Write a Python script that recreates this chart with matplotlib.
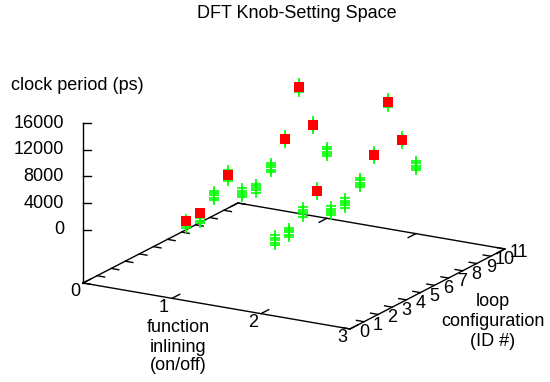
import numpy as np
import matplotlib
matplotlib.use("Agg")
import matplotlib.pyplot as plt
from mpl_toolkits.mplot3d import proj3d
from matplotlib.lines import Line2D
from matplotlib.transforms import IdentityTransform

# ---------------- data (clock period in ps) ----------------
inlining = [1, 2]
loop_ids = [1, 2, 3, 4, 5, 6, 7, 8, 9, 10, 11]

# repeated runs (green "+") for function inlining = 1
green_inl1 = [
    [1400, 1750, 2100, 2450, 2800],
    [1050, 1450, 1850, 2250, 2650],
    [3500, 3850, 4200, 4550, 4900],
    [5300, 5700, 6100, 6500, 6900],
    [1700, 2050, 2400, 2700, 3050],
    [1300, 1650, 1950, 2300, 2650],
    [3300, 3650, 4000, 4300, 4650],
    [6500, 6800, 7100, 7450, 7750],
    [13200, 13550, 13850, 14150, 14500],
    [6450, 6800, 7100, 7400, 7750],
    [1300, 1650, 2000, 2350, 2700],
]
# repeated runs (green "+") for function inlining = 2
green_inl2 = [
    [1150, 1550, 1950, 2300, 2700],
    [1250, 1600, 2000, 2350, 2700],
    [3300, 3650, 4000, 4350, 4700],
    [5400, 5750, 6050, 6350, 6700],
    [1300, 1650, 2000, 2300, 2650],
    [1350, 1700, 2050, 2400, 2750],
    [3300, 3650, 4000, 4350, 4700],
    [6450, 6750, 7080, 7400, 7700],
    [13250, 13600, 13900, 14200, 14550],
    [6500, 6800, 7150, 7450, 7800],
    [1500, 1850, 2200, 2550, 2900],
]
# highlighted results (red squares), nan = none
red_inl1 = [2550, 2670, np.nan, 6135, np.nan, np.nan, np.nan, 7125, 13845, 7095, np.nan]
red_inl2 = [np.nan, np.nan, np.nan, 6045, np.nan, np.nan, np.nan, 7080, 13890, 7140, np.nan]

x_ticks = [0, 1, 2, 3]
y_ticks = list(range(0, 12))
z_ticks = [0, 4000, 8000, 12000, 16000]
x_lim = (0, 3)
y_lim = (0, 11)
z_lim = (-8000, 16000)

title = "DFT Knob-Setting Space"
z_label = "clock period (ps)"
x_label = ["function", "inlining", "(on/off)"]
y_label = ["loop", "configuration", "(ID #)"]

# ---------------- figure ----------------
W, H = 550, 382
plt.rcParams["font.family"] = ["Liberation Sans", "DejaVu Sans"]
FS = 13
fig = plt.figure(figsize=(W / 100, H / 100), dpi=100)
S = 700
ax = fig.add_axes([0, 0, S / W, S / H], projection="3d")
ax.set_proj_type("ortho")
ax.view_init(elev=17.35, azim=-60)
ax.set_xlim(*x_lim)
ax.set_ylim(*y_lim)
ax.set_zlim(*z_lim)
aspect = (1, 1.005, 0.5436)
ax.set_box_aspect(aspect)
ax.set_axis_off()


def px(x, y, z):
    xs, ys, _ = proj3d.proj_transform(np.atleast_1d(np.asarray(x, float)),
                                      np.atleast_1d(np.asarray(y, float)),
                                      np.atleast_1d(np.asarray(z, float)),
                                      ax.get_proj())
    return ax.transData.transform(np.column_stack([xs, ys]))


# calibrate size and placement to the reference layout
fig.canvas.draw()
p0 = px(x_lim[0], y_lim[0], z_lim[0])[0]
p1 = px(x_lim[1], y_lim[0], z_lim[0])[0]
zoom = 270.9 / np.hypot(*(p1 - p0))
ax.set_box_aspect(aspect, zoom=zoom)
fig.canvas.draw()
p0 = px(x_lim[0], y_lim[0], z_lim[0])[0]
target = np.array([83.0, H - 283.0])
sh = target - p0
pos = ax.get_position()
ax.set_position([pos.x0 + sh[0] / W, pos.y0 + sh[1] / H, pos.width, pos.height])
fig.canvas.draw()

zb = z_lim[0]
lw = 1.0
# base border
x0, x1 = x_lim
y0, y1 = y_lim
ax.plot([x0, x1, x1, x0, x0], [y0, y0, y1, y1, y0], [zb] * 5, color="black", lw=lw, zorder=2)
# vertical z axis
ax.plot([x0, x0], [y0, y0], [zb, z_ticks[-1]], color="black", lw=lw, zorder=2)
# x ticks (mirrored)
tlx = 0.55
for xv in x_ticks:
    ax.plot([xv, xv], [y0, y0 + tlx], [zb, zb], color="black", lw=lw, zorder=2)
    ax.plot([xv, xv], [y1, y1 - tlx], [zb, zb], color="black", lw=lw, zorder=2)
# y ticks (mirrored)
tly = 0.085
for yv in y_ticks:
    ax.plot([x1, x1 - tly], [yv, yv], [zb, zb], color="black", lw=lw, zorder=2)
    ax.plot([x0, x0 + tly], [yv, yv], [zb, zb], color="black", lw=lw, zorder=2)

# data
for xi, greens, reds in [(inlining[0], green_inl1, red_inl1), (inlining[1], green_inl2, red_inl2)]:
    gx, gy, gz = [], [], []
    for yid, samples in zip(loop_ids, greens):
        for s in samples:
            gx.append(xi)
            gy.append(yid)
            gz.append(s)
    ax.plot(gx, gy, gz, ls="none", marker="+", ms=6.5, mew=1.2, color="#00ff00", zorder=3)
    r = np.array(reds, float)
    m = ~np.isnan(r)
    ax.plot(np.full(m.sum(), xi), np.array(loop_ids)[m], r[m], ls="none", marker="s",
            ms=6.5, mew=0, color="#ff0000", zorder=4)

# z ticks and labels (2D, pixel space)
for zv in z_ticks:
    p = px(x0, y0, zv)[0]
    fig.add_artist(Line2D([p[0], p[0] + 8], [p[1], p[1]], color="black", lw=lw,
                          transform=IdentityTransform()))
    fig.text((p[0] - 19) / W, p[1] / H, f"{zv}", ha="right", va="center", fontsize=FS)

# x tick labels
for xv in x_ticks:
    p = px(xv, y0, zb)[0]
    fig.text((p[0] - 8) / W, (p[1] - 9) / H, f"{xv}", ha="center", va="center", fontsize=FS)
# y tick labels
for yv in y_ticks:
    p = px(x1, yv, zb)[0]
    fig.text((p[0] + 14) / W, (p[1] - 3.5) / H, f"{yv}", ha="center", va="center", fontsize=FS)

# titles / axis labels
fig.text(297 / W, 1 - 14 / H, title, ha="center", va="center", fontsize=FS)
fig.text(11 / W, 1 - 86 / H, z_label, ha="left", va="center", fontsize=FS)
for line, yy in zip(x_label, [328, 347, 365]):
    fig.text(178 / W, 1 - yy / H, line, ha="center", va="center", fontsize=FS)
for line, yy in zip(y_label, [301, 321, 341]):
    fig.text(493 / W, 1 - yy / H, line, ha="center", va="center", fontsize=FS)

fig.savefig("out.png", dpi=100)
